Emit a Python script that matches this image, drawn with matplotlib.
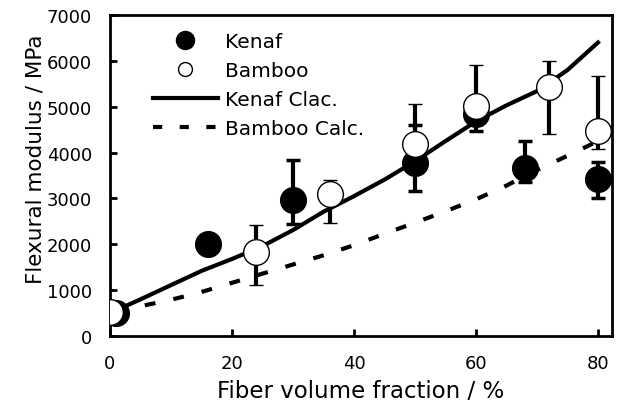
import numpy as np
import matplotlib
matplotlib.use("Agg")
import matplotlib.pyplot as plt
from matplotlib.lines import Line2D

plt.rcParams['font.family'] = ['DejaVu Sans']

# measured data (x = fiber volume fraction %, y = flexural modulus MPa)
kenaf_x = [1, 16, 30, 50, 60, 68, 80]
kenaf_y = [500, 2000, 2970, 3770, 4840, 3656, 3423]
kenaf_lo = [0, 0, 530, 600, 360, 305, 420]
kenaf_hi = [0, 0, 875, 830, 360, 600, 365]

bamboo_x = [0, 24, 36, 50, 60, 72, 80]
bamboo_y = [520, 1840, 3096, 4190, 5010, 5423, 4477]
bamboo_lo = [0, 728, 632, 500, 400, 1018, 400]
bamboo_hi = [0, 580, 312, 870, 900, 581, 1186]

# calculated curves
calc_x = [1, 5, 10, 15, 20, 25, 30, 35, 40, 45, 50, 55, 60, 65, 70, 75, 80]
kenaf_calc = [560, 800, 1110, 1420, 1680, 1960, 2310, 2710, 3050, 3410,
              3810, 4250, 4680, 5030, 5340, 5800, 6400]
bamboo_calc = [560, 650, 790, 960, 1160, 1360, 1560, 1760, 1980, 2230,
               2470, 2720, 2980, 3280, 3620, 3930, 4250]

fig = plt.figure(figsize=(6.19, 4.10), dpi=100)
ax = fig.add_axes([0.1777, 0.178, 0.811, 0.783])

ax.plot(calc_x, kenaf_calc, color='black', lw=3, zorder=2)
ax.plot(calc_x, bamboo_calc, color='black', lw=3, dashes=(2.6, 4.4), zorder=2)

ax.errorbar(kenaf_x, kenaf_y, yerr=[kenaf_lo, kenaf_hi], fmt='o', ms=18.5,
            mfc='black', mec='black', color='black', elinewidth=3,
            capsize=4.7, capthick=2.5, zorder=3)
ax.errorbar(bamboo_x, bamboo_y, yerr=[bamboo_lo, bamboo_hi], fmt='o', ms=18.5,
            mfc='white', mec='black', mew=1, color='black', elinewidth=3,
            capsize=4.7, capthick=2.5, zorder=4)

ax.set_xlim(0, 82.3)
ax.set_ylim(0, 7000)
ax.set_xticks([0, 20, 40, 60, 80])
ax.set_yticks(range(0, 7001, 1000))
for s in ax.spines.values():
    s.set_linewidth(2)
ax.tick_params(direction='in', length=5, width=2, labelsize=13, pad=13)

ax.set_xlabel('Fiber volume fraction / %', fontsize=16.5, labelpad=5)
ax.set_ylabel('Flexural modulus / MPa', fontsize=15.5)
ax.yaxis.set_label_coords(-0.128, 0.555)

handles = [
    Line2D([], [], ls='none', marker='o', ms=13, mfc='black', mec='black'),
    Line2D([], [], ls='none', marker='o', ms=10, mfc='white', mec='black', mew=1),
    Line2D([], [], color='black', lw=3),
    Line2D([], [], color='black', lw=3, dashes=(2.2, 4.2)),
]
labels = ['Kenaf', 'Bamboo', 'Kenaf Clac.', 'Bamboo Calc.']
ax.legend(handles, labels, loc='upper left', bbox_to_anchor=(0.07, 0.973),
          frameon=False, fontsize=14.5, handlelength=3.2, handletextpad=0.35,
          labelspacing=0.5, borderaxespad=0)

fig.savefig('out.png', dpi=100)
